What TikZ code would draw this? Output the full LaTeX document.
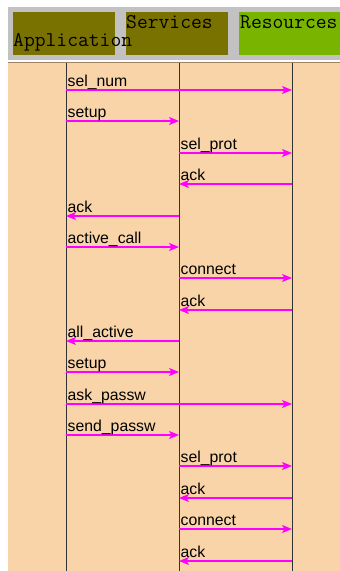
\documentclass[tikz,border=0pt]{standalone}
\usepackage{fontspec}
\setmainfont{Liberation Sans}
\usetikzlibrary{arrows.meta, positioning}
\definecolor{peach}{RGB}{249,212,168}
\definecolor{band}{RGB}{194,194,194}
\definecolor{olive}{RGB}{122,114,0}
\definecolor{grass}{RGB}{120,180,0}
\definecolor{rim}{RGB}{160,128,96}
\definecolor{pink}{RGB}{255,0,255}
\tikzset{
    x=1pt, y=-1pt,
    hdr/.style={fill=#1, draw=none},
    hdrtext/.style={font=\ttfamily\fontsize{21}{22}\selectfont, inner sep=0pt, anchor=base west},
    life/.style={draw=black!80, line width=0.9pt},
    msg/.style={draw=pink, line width=1.3pt, -{Stealth[length=10pt, width=8pt, inset=2.5pt]}},
    lbl/.style={font=\fontsize{15.8}{17}\selectfont, inner sep=0pt, anchor=base west}
}

\begin{document}
\begin{tikzpicture}
    \useasboundingbox (0,0) rectangle (340,571);

    % header band and boxes
    \fill[band] (8,7) rectangle (340,60);
    \fill[peach] (8,62) rectangle (340,571);
    \draw[rim, line width=1pt] (8,62) -- (340,62);
    \fill[hdr=olive] (13,12) rectangle (115,55);
    \fill[hdr=olive] (126,12) rectangle (228,55);
    \fill[hdr=grass] (239,12) rectangle (340,55);
    \node (happ) [hdrtext] at (13,46) {Application};
    \node (hsrv) [hdrtext] at (126,28) {Services};
    \node (hres) [hdrtext] at (240,28) {Resources};

    % lifelines
    \coordinate (app) at (66,63);
    \coordinate (srv) at (179,63);
    \coordinate (res) at (292,63);
    \coordinate (append) at (66,571);
    \coordinate (srvend) at (179,571);
    \coordinate (resend) at (292,571);
    \draw[life] (app) -- (append);
    \draw[life] (srv) -- (srvend);
    \draw[life] (res) -- (resend);

    % messages
    \foreach \y/\src/\dst/\at/\txt [count=\i] in {
        90/app/res/app/sel\_num,
        121/app/srv/app/setup,
        153/srv/res/srv/sel\_prot,
        184/res/srv/srv/ack,
        216/srv/app/app/ack,
        247/app/srv/app/active\_call,
        278/srv/res/srv/connect,
        310/res/srv/srv/ack,
        341/srv/app/app/all\_active,
        372/app/srv/app/setup,
        404/app/res/app/ask\_passw,
        435/app/srv/app/send\_passw,
        466/srv/res/srv/sel\_prot,
        498/res/srv/srv/ack,
        529/srv/res/srv/connect,
        561/res/srv/srv/ack} {
        \coordinate (m\i s) at (\src |- 0,\y);
        \coordinate (m\i t) at (\dst |- 0,\y);
        \draw[msg] (m\i s) -- (m\i t);
        \node (l\i) [lbl] at ([xshift=1.5pt, yshift=3.5pt]\at |- 0,\y) {\txt};
    }
\end{tikzpicture}
\end{document}
